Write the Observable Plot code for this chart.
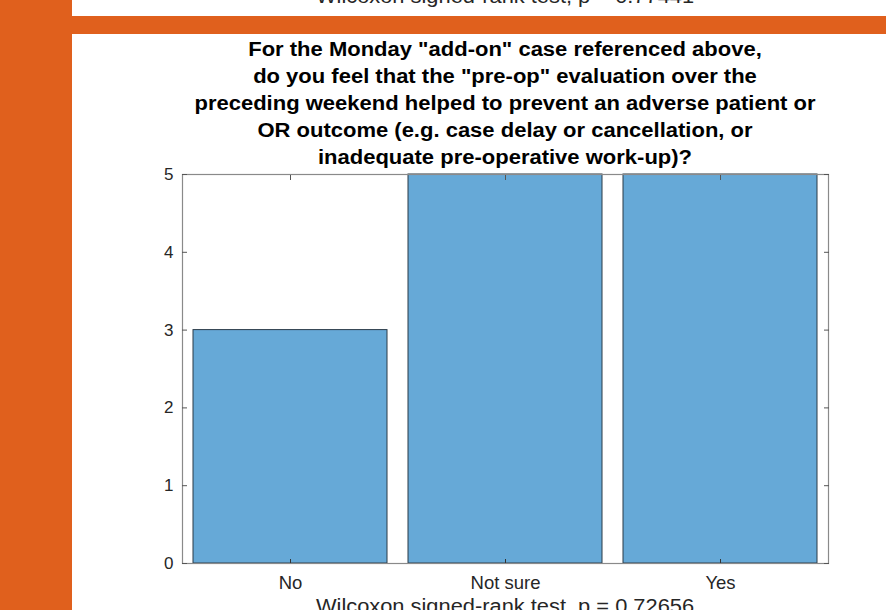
<!DOCTYPE html>
<html>
<head>
<meta charset="utf-8">
<script src="https://cdn.jsdelivr.net/npm/d3@7"></script>
<script src="https://cdn.jsdelivr.net/npm/@observablehq/plot@0.6"></script>
<style>
  html, body { margin: 0; padding: 0; background: #ffffff; }
  #page { position: relative; width: 886px; height: 610px; overflow: hidden; background: #ffffff; font-family: "Liberation Sans", Arial, sans-serif; }
  .orange { position: absolute; background: #e0601d; }
  .title { position: absolute; left: 72px; width: 866px; text-align: center; font-weight: bold; font-size: 20px; color: #000; line-height: 27px; transform: scaleX(1.1); transform-origin: 433px 0; }
  .note { position: absolute; left: 72px; width: 866px; text-align: center; font-size: 19.5px; color: #262626; transform: scaleX(1.12); transform-origin: 433px 0; }
  #chart { position: absolute; left: 0; top: 0; }
</style>
</head>
<body>
<div id="page">
  <div class="note" style="top:-15px;">Wilcoxon signed-rank test, p = 0.77441</div>
  <div id="chart"></div>
  <div class="orange" style="left:0;top:0;width:72px;height:610px;"></div>
  <div class="orange" style="left:72px;top:16px;width:814px;height:18px;"></div>
  <div class="title" style="top:36px;">For the Monday "add-on" case referenced above,<br>do you feel that the "pre-op" evaluation over the<br>preceding weekend helped to prevent an adverse patient or<br>OR outcome (e.g. case delay or cancellation, or<br>inadequate pre-operative work-up)?</div>
  <div class="note" style="top:595px;">Wilcoxon signed-rank test, p = 0.72656</div>
</div>
<script>
const categories = ["No", "Not sure", "Yes"];
const counts = [3, 5, 5];
const yTicks = [0, 1, 2, 3, 4, 5];

const data = categories.map((c, i) => ({category: c, count: counts[i]}));

const chart = Plot.plot({
  width: 886,
  height: 610,
  marginLeft: 182,
  marginRight: 58,
  marginTop: 174,
  marginBottom: 47,
  style: {background: "transparent", fontFamily: "Liberation Sans, Arial, sans-serif"},
  x: {domain: categories, paddingInner: 0.1, paddingOuter: 0.05, label: null},
  y: {domain: [0, 5], label: null},
  marks: [
    Plot.barY(data, {x: "category", y: "count", fill: "#66a9d7", stroke: "#2b3a47", strokeWidth: 1}),
    Plot.frame({stroke: "#8a8a8a", strokeWidth: 1.2}),
    Plot.axisY({ticks: yTicks, tickFormat: d3.format("d"), anchor: "left", tickSize: 0, tickPadding: 9, fontSize: 17, color: "#262626", label: null}),
    Plot.axisY({ticks: yTicks, anchor: "left", tickSize: -5, tickFormat: () => "", stroke: "#555", label: null}),
    Plot.axisY({ticks: yTicks, anchor: "right", tickSize: -5, tickFormat: () => "", stroke: "#555", label: null}),
    Plot.axisX({anchor: "bottom", tickSize: 0, tickPadding: 12, fontSize: 18.5, color: "#262626", label: null, style: {letterSpacing: "0.6px"}}),
    Plot.axisX({anchor: "bottom", tickSize: -4, tickFormat: () => "", stroke: "#333", label: null}),
    Plot.axisX({anchor: "top", tickSize: -5, tickFormat: () => "", stroke: "#555", label: null})
  ]
});
document.getElementById("chart").appendChild(chart);
</script>
</body>
</html>
